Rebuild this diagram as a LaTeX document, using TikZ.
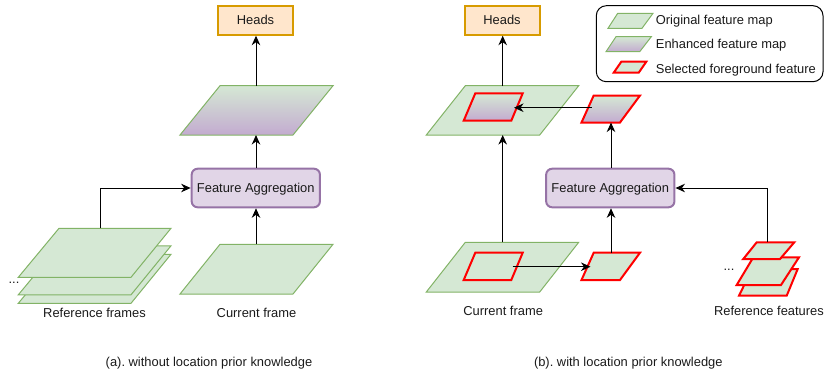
\documentclass[tikz,border=0pt]{standalone}
\usepackage{fontspec}
\setmainfont{Liberation Sans}
\usetikzlibrary{arrows.meta}
\frenchspacing
\definecolor{gfill}{HTML}{D5E8D4}
\definecolor{gline}{HTML}{82B366}
\definecolor{ofill}{HTML}{FFE6CC}
\definecolor{oline}{HTML}{D79B00}
\definecolor{pfill}{HTML}{E1D5E7}
\definecolor{pline}{HTML}{9673A6}
\definecolor{pgrad}{HTML}{C3ABD0}
\definecolor{txt}{HTML}{1A1A1A}
\tikzset{
 fmap/.style={fill=gfill, draw=gline, line width=1pt},
 emap/.style={top color=gfill, bottom color=pgrad, draw=gline, line width=1pt},
 selg/.style={fill=gfill, draw=red, line width=2pt},
 sele/.style={top color=gfill, bottom color=pgrad, draw=red, line width=2pt},
 lbl/.style={font=\fontsize{12.9}{15}\selectfont, text=txt, inner sep=0pt},
 headbox/.style={lbl, draw=oline, fill=ofill, line width=2pt, minimum width=75pt, minimum height=29.2pt, text height=9.3pt, text depth=0pt},
 aggbox/.style={lbl, draw=pline, fill=pfill, line width=2pt, rounded corners=6pt, minimum width=128.3pt, minimum height=38.6pt, text height=9.3pt, text depth=0pt},
 legbox/.style={draw=black, line width=1pt, rounded corners=10pt},
 conn/.style={draw=black, line width=1pt, -{Stealth[length=9.5pt,width=8.5pt,inset=3pt]}},
}
\begin{document}
\begin{tikzpicture}[x=1pt,y=-1pt]
\useasboundingbox (0,0) rectangle (825,373);
% ---------------- panel (a) ----------------
\node[headbox] (hA) at (255.5,20.1) {Heads};
\node[aggbox] (faA) at (255.8,188) {Feature Aggregation};
% enhanced map
\draw[emap] (220,85.7) -- (333,85.7) -- (293,135) -- (180,135) -- cycle;
\coordinate (emAt) at (256,85.7);
\coordinate (emAb) at (256,135);
% current frame
\draw[fmap] (220,244.3) -- (333,244.3) -- (293,294) -- (180,294) -- cycle;
\coordinate (cfAt) at (256,244.3);
% reference frames
\draw[fmap] (59,254.3) -- (171,254.3) -- (131,303.3) -- (18.3,303.3) -- cycle;
\draw[fmap] (59,245.8) -- (171,245.8) -- (131,294.8) -- (18.3,294.8) -- cycle;
\draw[fmap] (59,228.3) -- (171,228.3) -- (131,277.3) -- (18.3,277.3) -- cycle;
\coordinate (rfAt) at (100,228.3);
\node[lbl, anchor=base] (dotsA) at (14,283.5) {...};
\node[lbl, anchor=base] (rfAl) at (94.5,317.3) {Reference frames};
\node[lbl, anchor=base] (cfAl) at (256.5,317.3) {Current frame};
\node[lbl, anchor=base] (capA) at (209,366.7) {(a). without location prior knowledge};
% connectors
\draw[conn] (cfAt) -- (cfAt |- faA.south);
\draw[conn] (cfAt |- faA.north) -- (emAb);
\draw[conn] (emAt) -- (emAt |- hA.south);
\draw[conn] (rfAt) |- (faA.west);
% ---------------- panel (b) ----------------
\node[headbox] (hB) at (502,20.1) {Heads};
\node[aggbox] (faB) at (610.3,188) {Feature Aggregation};
% upper map with enhanced selected feature
\draw[fmap] (465.3,85.7) -- (578.7,85.7) -- (539.7,135) -- (426.3,135) -- cycle;
\draw[sele] (475.3,93.3) -- (522.7,93.3) -- (511.3,120.7) -- (463.7,120.7) -- cycle;
\coordinate (umBt) at (502.7,85.7);
\coordinate (umBb) at (502.7,135);
\coordinate (inUr) at (514,107.7);
% right enhanced selected feature
\draw[sele] (593.7,95.5) -- (640,95.5) -- (620,122.5) -- (581.5,122.5) -- cycle;
\coordinate (reUl) at (591.7,107.7);
\coordinate (reUb) at (611,122.5);
% current frame
\draw[fmap] (465.3,242.3) -- (578.7,242.3) -- (539.7,292) -- (426.3,292) -- cycle;
\draw[selg] (475.3,252.7) -- (522.7,252.7) -- (511.3,280) -- (463.7,280) -- cycle;
\coordinate (cfBt) at (502.7,242.3);
\coordinate (inLr) at (512.5,266.7);
% selected current feature
\draw[selg] (593.7,252.7) -- (640,252.7) -- (620,280) -- (581.5,280) -- cycle;
\coordinate (scLl) at (590.5,266.7);
\coordinate (scLt) at (611,252.7);
% reference features
\draw[selg] (752,269) -- (797.7,269) -- (786.7,295.7) -- (739,295.7) -- cycle;
\draw[selg] (753.3,257.3) -- (799,257.3) -- (781,285) -- (736.7,285) -- cycle;
\draw[selg] (756.7,242.3) -- (794.3,242.3) -- (780,259) -- (743.3,259) -- cycle;
\coordinate (rfBt) at (767,242.3);
\node[lbl, anchor=base] (dotsB) at (729,270) {...};
\node[lbl, anchor=base] (cfBl) at (503.2,315.3) {Current frame};
\node[lbl, anchor=base] (rfBl) at (769,315.3) {Reference features};
\node[lbl, anchor=base] (capB) at (628.3,366.7) {(b). with location prior knowledge};
% connectors
\draw[conn] (cfBt) -- (umBb);
\draw[conn] (umBt) -- (umBt |- hB.south);
\draw[conn] (inLr) -- (scLl);
\draw[conn] (scLt) -- (scLt |- faB.south);
\draw[conn] (scLt |- faB.north) -- (reUb);
\draw[conn] (reUl) -- (inUr);
\draw[conn] (rfBt) |- (faB.east);
% ---------------- legend ----------------
\draw[legbox] (596.3,5.7) rectangle (823,81.7);
\draw[fmap] (617.7,13.3) -- (653,13.3) -- (642,28.3) -- (608,28.3) -- cycle;
\draw[emap] (616,36.7) -- (651.3,36.7) -- (639.7,51.7) -- (606,51.7) -- cycle;
\draw[selg] (621.3,61.7) -- (646.3,61.7) -- (638.7,72.7) -- (613.7,72.7) -- cycle;
\node[lbl, anchor=base west] (lg1) at (655.7,24) {Original feature map};
\node[lbl, anchor=base west] (lg2) at (655.7,48.3) {Enhanced feature map};
\node[lbl, anchor=base west] (lg3) at (655.7,73.3) {Selected foreground feature};
\end{tikzpicture}
\end{document}
